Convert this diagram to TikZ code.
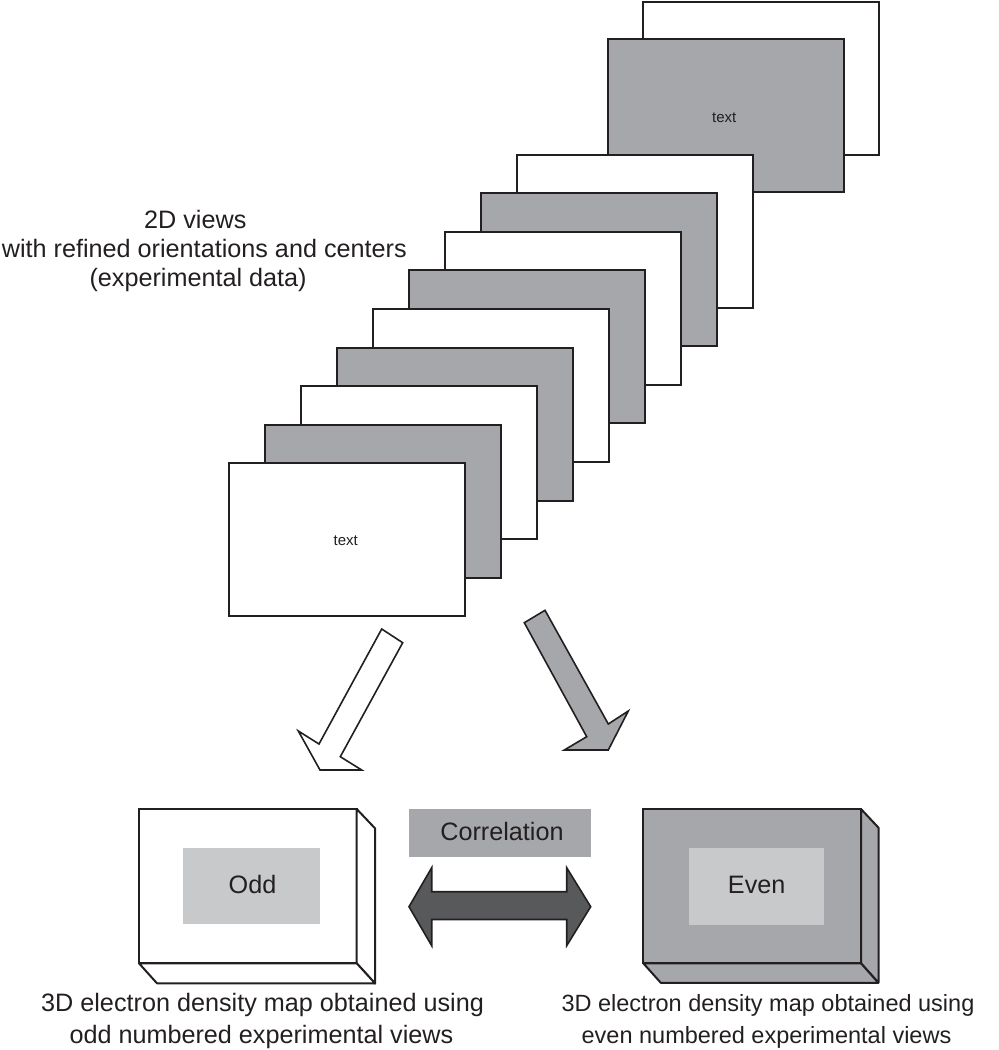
\documentclass[tikz,border=0pt]{standalone}
\usepackage{fontspec}
\setmainfont{Liberation Sans}
\definecolor{midgray}{HTML}{A6A7AA}
\definecolor{palegray}{HTML}{C8C9CB}
\definecolor{deepgray}{HTML}{58595B}
\definecolor{ink}{HTML}{231F20}
\begin{document}
\begin{tikzpicture}[x=1pt,y=-1pt,
  frame/.style={draw=ink, line width=2pt, anchor=north west, minimum width=236pt, minimum height=153pt, inner sep=0pt, outer sep=0pt},
  small/.style={font=\fontsize{15}{18}\selectfont, text=ink, inner sep=0pt, anchor=base},
  big/.style={font=\fontsize{25.2}{30}\selectfont, text=ink, inner sep=0pt, anchor=base},
  bigw/.style={big, anchor=base west},
  capr/.style={font=\fontsize{23.5}{28}\selectfont, text=ink, inner sep=0pt, anchor=base},
  blockarrow/.style={draw=ink, line width=1.6pt, line join=miter},
  boxline/.style={draw=ink, line width=2pt, line join=round},
  flat/.style={anchor=north west, inner sep=0pt, outer sep=0pt, draw=none}
]
\useasboundingbox (0,0) rectangle (999,1050);

% stack of 2D views (back to front)
\node[frame, fill=white] (f10) at (643,1.7) {};
\node[frame, fill=midgray] (f9) at (607.7,39.3) {};
\foreach \i in {8,...,0}{
  \pgfmathsetmacro\xx{228.5+36*\i}
  \pgfmathsetmacro\yy{463.3-38.6*\i}
  \ifodd\i\relax\def\fc{midgray}\else\def\fc{white}\fi
  \node[frame, fill=\fc] (f\i) at (\xx,\yy) {};
}
\node[small] (t9) at (724.3,122.7) {text};
\node[small] (t0) at (345.8,545) {text};

% heading
\node[bigw] (h1) at (144,228.3) {2D views};
\node[bigw] (h2) at (1.7,257.7) {with refined orientations and centers};
\node[bigw] (h3) at (89.3,286.5) {(experimental data)};

% block arrows
\draw[blockarrow, fill=white] (381.7,629) -- (402.7,642.7) -- (340.3,756.7) -- (361.7,770)
  -- (320,770) -- (298.3,731) -- (319,744) -- cycle;
\draw[blockarrow, fill=midgray] (524.3,622.7) -- (545,610.3) -- (608.3,724) -- (628.3,711)
  -- (608.3,750) -- (564.3,750) -- (586.7,736.7) -- cycle;

% odd box
\node[frame, fill=white, minimum width=217.7pt, minimum height=154.3pt] (oddbox) at (139,809) {};
\draw[boxline, fill=white] (oddbox.north east) -- ++(18.3,19.3) -- ++(0,155.3) -- (oddbox.south east) -- cycle;
\draw[boxline, fill=white] (oddbox.south west) -- ++(18,20) -- ++(218,0) -- (oddbox.south east) -- cycle;
\node[flat, fill=palegray, minimum width=136.7pt, minimum height=76pt] (oddin) at (183.3,848.3) {};
\node[big] (oddtxt) at (252.5,893.3) {Odd};

% even box
\node[frame, fill=midgray, minimum width=217.7pt, minimum height=154.3pt] (evenbox) at (643.3,809) {};
\draw[boxline, fill=midgray] (evenbox.north east) -- ++(17.5,18.7) -- ++(0,155) -- (evenbox.south east) -- cycle;
\draw[boxline, fill=midgray] (evenbox.south west) -- ++(17.5,19.5) -- ++(217.5,0) -- (evenbox.south east) -- cycle;
\node[flat, fill=palegray, minimum width=135.3pt, minimum height=76.5pt] (evenin) at (689,848.3) {};
\node[big] (eventxt) at (756.7,893.3) {Even};

% correlation
\node[flat, fill=midgray, minimum width=181.7pt, minimum height=48pt] (corr) at (409.3,809.3) {};
\node[big] (corrtxt) at (502,840.7) {Correlation};
\draw[blockarrow, fill=deepgray] (409,906.7) -- (431.7,867.7) -- (431.7,891.7) -- (566.7,891.7)
  -- (566.7,867.7) -- (590.7,906.7) -- (566.7,945.7) -- (566.7,919.5) -- (431.7,919.5)
  -- (431.7,945.7) -- cycle;

% captions
\node[bigw] (c1) at (41,1011.7) {3D electron density map obtained using};
\node[bigw] (c2) at (69.3,1043.3) {odd numbered experimental views};
\node[capr] (c3) at (768,1011.7) {3D electron density map obtained using};
\node[capr] (c4) at (766.5,1043.3) {even numbered experimental views};
\end{tikzpicture}
\end{document}
